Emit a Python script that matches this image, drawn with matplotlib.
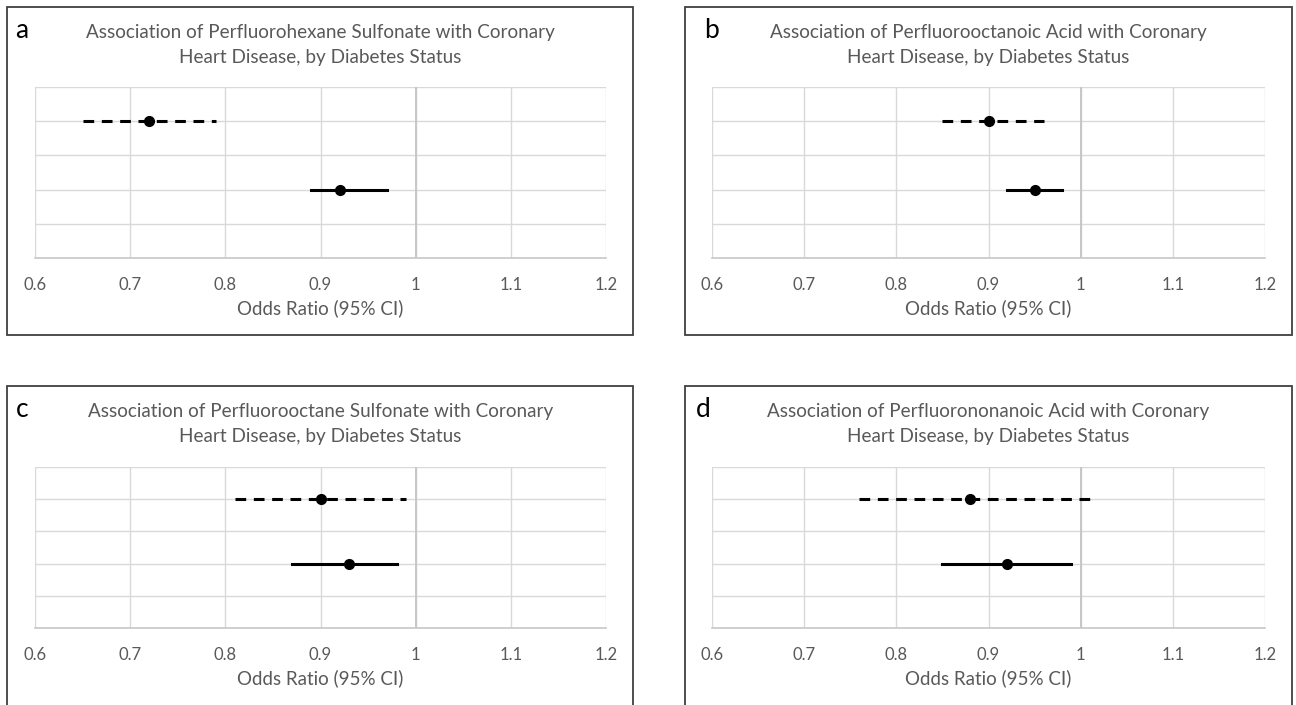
import matplotlib
matplotlib.use("Agg")
import matplotlib.pyplot as plt
from matplotlib.patches import Rectangle

plt.rcParams['font.family'] = ['Lato', 'DejaVu Sans']

# ---- data ----
panel_letters = ["a", "b", "c", "d"]
titles = [
    "Association of Perfluorohexane Sulfonate with Coronary\nHeart Disease, by Diabetes Status",
    "Association of Perfluorooctanoic Acid with Coronary\nHeart Disease, by Diabetes Status",
    "Association of Perfluorooctane Sulfonate with Coronary\nHeart Disease, by Diabetes Status",
    "Association of Perfluorononanoic Acid with Coronary\nHeart Disease, by Diabetes Status",
]
# dashed series (upper row)
dashed_or = [0.72, 0.90, 0.90, 0.88]
dashed_lo = [0.65, 0.85, 0.81, 0.76]
dashed_hi = [0.79, 0.96, 0.99, 1.01]
# solid series (lower row)
solid_or = [0.92, 0.95, 0.93, 0.92]
solid_lo = [0.89, 0.92, 0.87, 0.85]
solid_hi = [0.97, 0.98, 0.98, 0.99]
x_ticks = [0.6, 0.7, 0.8, 0.9, 1.0, 1.1, 1.2]
x_tick_labels = ["0.6", "0.7", "0.8", "0.9", "1", "1.1", "1.2"]
x_label = "Odds Ratio (95% CI)"
row_dashed = 4
row_solid = 2

W, H = 1296, 705
fig = plt.figure(figsize=(W / 100, H / 100), dpi=100)

def fx(x):
    return x / W

def fy(y):
    return 1 - y / H

# pixel layouts: box (l, t, r, b), plot area (l, t, r, b), letter pos
boxes = [(7, 7, 633, 335), (685, 7, 1292, 335), (7, 386, 633, 712), (685, 386, 1292, 712)]
plots = [(35, 87, 606, 258), (712, 87, 1265, 258), (35, 467, 606, 628), (712, 467, 1265, 628)]
letter_pos = [(22, 30), (712, 30), (22, 410), (703, 410)]

grey_text = "#595959"

for i in range(4):
    bl, bt, br, bb = boxes[i]
    fig.patches.append(Rectangle((fx(bl), fy(bb)), fx(br - bl), (bb - bt) / H,
                                 transform=fig.transFigure, fill=False,
                                 edgecolor="#404040", linewidth=1.3, zorder=0))
    pl, pt, pr, pb = plots[i]
    ax = fig.add_axes([fx(pl), fy(pb), fx(pr - pl), (pb - pt) / H])
    ax.set_xlim(0.6, 1.2)
    ax.set_ylim(0, 5)
    ax.set_xticks(x_ticks)
    ax.set_xticklabels(x_tick_labels)
    ax.set_yticks([0, 1, 2, 3, 4, 5])
    ax.set_yticklabels([])
    ax.tick_params(axis='both', length=0)
    ax.tick_params(axis='x', labelsize=12, colors=grey_text, pad=14)
    ax.grid(True, color="#d9d9d9", linewidth=1.0)
    ax.set_axisbelow(True)
    for s in ["top", "right", "left"]:
        ax.spines[s].set_visible(False)
    ax.spines["bottom"].set_color("#c8c8c8")
    ax.spines["bottom"].set_linewidth(1.2)
    ax.axvline(1.0, color="#c4c4c4", linewidth=1.3, zorder=1)
    ax.set_xlabel(x_label, fontsize=13.5, color=grey_text, labelpad=4)

    ax.plot([dashed_lo[i], dashed_hi[i]], [row_dashed, row_dashed], color="black",
            linewidth=2.2, linestyle=(0, (3.5, 2.5)), zorder=3)
    ax.plot([dashed_or[i]], [row_dashed], "o", color="black", markersize=7, zorder=4)
    ax.plot([solid_lo[i], solid_hi[i]], [row_solid, row_solid], color="black",
            linewidth=2.2, linestyle="-", zorder=3)
    ax.plot([solid_or[i]], [row_solid], "o", color="black", markersize=7, zorder=4)

    cx = (pl + pr) / 2
    fig.text(fx(cx), fy(bt + 38), titles[i], ha="center", va="center",
             fontsize=13.6, color=grey_text, linespacing=1.6)
    lx, ly = letter_pos[i]
    fig.text(fx(lx), fy(ly), panel_letters[i], ha="center", va="center",
             fontsize=19, color="black")

fig.savefig("out.png", dpi=100)
